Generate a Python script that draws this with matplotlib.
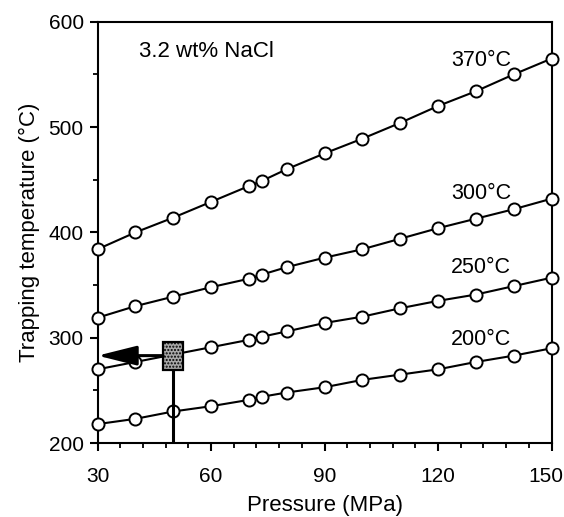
import matplotlib.pyplot as plt
import matplotlib.transforms as mtransforms
from matplotlib.patches import Rectangle, FancyArrowPatch

plt.rcParams['font.family'] = ['Liberation Sans', 'DejaVu Sans']

# pressures (MPa) shared by all isochores
pressure = [30, 40, 50, 60, 70, 73.5, 80, 90, 100, 110, 120, 130, 140, 150]

# trapping temperatures (degC), one list per homogenization temp
t370 = [384, 400, 414, 429, 444, 449, 460, 475, 489, 504, 520, 534, 550, 565]
t300 = [319, 330, 339, 348, 356, 360, 367, 376, 384, 394, 404, 413, 422, 432]
t250 = [270, 277, 284, 291, 298, 301, 306, 314, 320, 328, 335, 341, 349, 357]
t200 = [218, 223, 230, 235, 241, 244, 248, 253, 260, 265, 270, 277, 283, 290]

series_labels = ['370°C', '300°C', '250°C', '200°C']
label_y = [563, 437, 367, 298]

# sample box: pressure range and temperature range
box_p = [47.3, 52.7]
box_t = [269.6, 296.2]
sample_p = 50
sample_t = 283

fig = plt.figure(figsize=(5.64, 5.17), dpi=100)
ax = fig.add_axes([0.173, 0.143, 0.805, 0.815])

for temps in [t370, t300, t250, t200]:
    ax.plot(pressure, temps, color='black', lw=1.5, marker='o', ms=8.7,
            mfc='white', mec='black', mew=1.4, zorder=3, clip_on=False)

for lab, y in zip(series_labels, label_y):
    ax.text(139.3, y, lab, ha='right', va='center', fontsize=15.5)

ax.text(40.9, 571.5, '3.2 wt% NaCl', ha='left', va='center', fontsize=16)

# vertical line from the pressure axis to the box
ax.plot([sample_p, sample_p], [200, box_t[0]], color='black', lw=2.2, zorder=4)

ax.add_patch(Rectangle((box_p[0], box_t[0]), box_p[1] - box_p[0], box_t[1] - box_t[0],
                       facecolor='#a9a9a9', edgecolor='black', lw=1.6,
                       hatch='.....', zorder=5))

arrow = FancyArrowPatch((box_p[0], sample_t), (30, sample_t),
                        arrowstyle='-|>,head_length=1.2,head_width=0.3',
                        mutation_scale=20, color='black', lw=2.2,
                        shrinkA=0, shrinkB=0, zorder=6)
ax.add_patch(arrow)

ax.set_xlim(30, 150)
ax.set_ylim(200, 600)
ax.set_xticks([30, 60, 90, 120, 150])
ax.set_xticks(range(30, 151, 6), minor=True)
ax.set_yticks([200, 300, 400, 500, 600])
ax.set_yticks(range(200, 601, 50), minor=True)
ax.tick_params(which='major', direction='out', length=6, width=1.5, labelsize=15)
ax.tick_params(axis='x', which='major', pad=11)
ax.tick_params(axis='y', which='major', pad=4)
ax.tick_params(which='minor', direction='out', length=3.5, width=1.3)
for s in ax.spines.values():
    s.set_linewidth(1.5)

# nudge the last pressure label so it stays inside the figure
fig.canvas.draw()
last = ax.get_xticklabels()[-1]
last.set_transform(last.get_transform() +
                   mtransforms.ScaledTranslation(-6 / 100, 0, fig.dpi_scale_trans))

ax.set_xlabel('Pressure (MPa)', fontsize=16, labelpad=7)
ax.set_ylabel('Trapping temperature (°C)', fontsize=16, labelpad=6)

fig.savefig('out.png', dpi=100)
